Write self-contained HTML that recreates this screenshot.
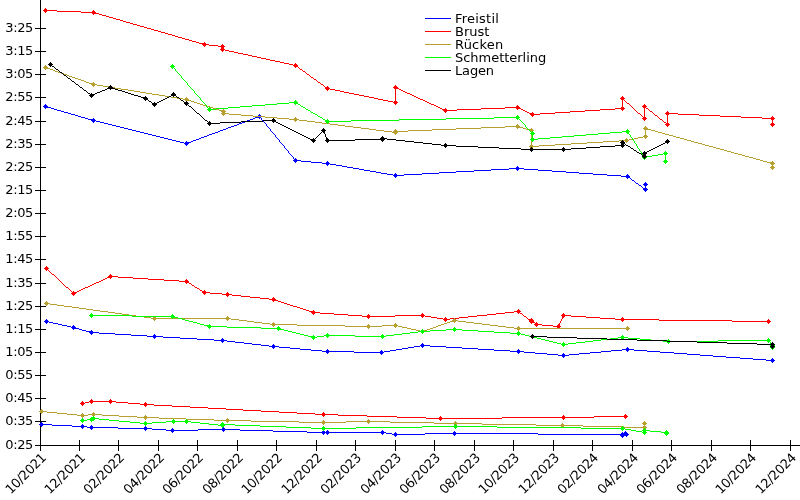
<!DOCTYPE html>
<html lang="de"><head><meta charset="utf-8"><title>Schwimmzeiten</title>
<style>
html,body{margin:0;padding:0;background:#fff;overflow:hidden}
svg{display:block}
text{font-family:"DejaVu Sans","Liberation Sans",sans-serif;font-size:13px;fill:#000}
.l{fill:none;stroke-width:1;shape-rendering:crispEdges}
.m{shape-rendering:crispEdges;stroke:none}
</style></head><body>
<svg width="800" height="500" viewBox="0 0 800 500">
<rect width="800" height="500" fill="#fff"/>
<path class="m" fill="#000" d="M40 0h1v451h-1zM35 445h765v1h-765zM35 28h11v1h-11zM35 51h11v1h-11zM35 74h11v1h-11zM35 97h11v1h-11zM35 121h11v1h-11zM35 144h11v1h-11zM35 167h11v1h-11zM35 190h11v1h-11zM35 213h11v1h-11zM35 236h11v1h-11zM35 259h11v1h-11zM35 283h11v1h-11zM35 306h11v1h-11zM35 329h11v1h-11zM35 352h11v1h-11zM35 375h11v1h-11zM35 398h11v1h-11zM35 421h11v1h-11zM79 440h1v11h-1zM118 440h1v11h-1zM158 440h1v11h-1zM197 440h1v11h-1zM237 440h1v11h-1zM276 440h1v11h-1zM316 440h1v11h-1zM355 440h1v11h-1zM395 440h1v11h-1zM434 440h1v11h-1zM474 440h1v11h-1zM513 440h1v11h-1zM553 440h1v11h-1zM592 440h1v11h-1zM632 440h1v11h-1zM671 440h1v11h-1zM711 440h1v11h-1zM750 440h1v11h-1zM790 440h1v11h-1z"/>
<g text-anchor="end" style="letter-spacing:-0.38px">
<text x="33.0" y="32.3">3:25</text>
<text x="33.0" y="55.3">3:15</text>
<text x="33.0" y="78.3">3:05</text>
<text x="33.0" y="101.3">2:55</text>
<text x="33.0" y="125.3">2:45</text>
<text x="33.0" y="148.3">2:35</text>
<text x="33.0" y="171.3">2:25</text>
<text x="33.0" y="194.3">2:15</text>
<text x="33.0" y="217.3">2:05</text>
<text x="33.0" y="240.3">1:55</text>
<text x="33.0" y="263.3">1:45</text>
<text x="33.0" y="287.3">1:35</text>
<text x="33.0" y="310.3">1:25</text>
<text x="33.0" y="333.3">1:15</text>
<text x="33.0" y="356.3">1:05</text>
<text x="33.0" y="379.3">0:55</text>
<text x="33.0" y="402.3">0:45</text>
<text x="33.0" y="425.3">0:35</text>
<text x="33.0" y="449.3">0:25</text>
</g>
<g text-anchor="end" style="letter-spacing:-0.42px">
<text transform="translate(46.8,458.7) rotate(-45)">10/2021</text>
<text transform="translate(85.8,458.7) rotate(-45)">12/2021</text>
<text transform="translate(124.8,458.7) rotate(-45)">02/2022</text>
<text transform="translate(164.8,458.7) rotate(-45)">04/2022</text>
<text transform="translate(203.8,458.7) rotate(-45)">06/2022</text>
<text transform="translate(243.8,458.7) rotate(-45)">08/2022</text>
<text transform="translate(282.8,458.7) rotate(-45)">10/2022</text>
<text transform="translate(322.8,458.7) rotate(-45)">12/2022</text>
<text transform="translate(361.8,458.7) rotate(-45)">02/2023</text>
<text transform="translate(401.8,458.7) rotate(-45)">04/2023</text>
<text transform="translate(440.8,458.7) rotate(-45)">06/2023</text>
<text transform="translate(480.8,458.7) rotate(-45)">08/2023</text>
<text transform="translate(519.8,458.7) rotate(-45)">10/2023</text>
<text transform="translate(559.8,458.7) rotate(-45)">12/2023</text>
<text transform="translate(598.8,458.7) rotate(-45)">02/2024</text>
<text transform="translate(638.8,458.7) rotate(-45)">04/2024</text>
<text transform="translate(677.8,458.7) rotate(-45)">06/2024</text>
<text transform="translate(717.8,458.7) rotate(-45)">08/2024</text>
<text transform="translate(756.8,458.7) rotate(-45)">10/2024</text>
<text transform="translate(796.8,458.7) rotate(-45)">12/2024</text>
</g>
<path class="m" fill="#0000ff" d="M425 18h26v1h-26z"/><text x="455" y="23" style="letter-spacing:0.23px">Freistil</text>
<path class="m" fill="#ff0000" d="M425 31h26v1h-26z"/><text x="455" y="36" style="letter-spacing:0px">Brust</text>
<path class="m" fill="#b8a030" d="M425 44h26v1h-26z"/><text x="455" y="49" style="letter-spacing:0.2px">Rücken</text>
<path class="m" fill="#00ff00" d="M425 57h26v1h-26z"/><text x="455" y="62" style="letter-spacing:-0.03px">Schmetterling</text>
<path class="m" fill="#000000" d="M425 70h26v1h-26z"/><text x="455" y="75" style="letter-spacing:-0.15px">Lagen</text>
<path class="m" fill="#0000ff" d="M645 184h1v6h-1zM45 106h2v1h-2zM47 107h4v1h-4zM51 108h3v1h-3zM54 109h3v1h-3zM57 110h4v1h-4zM61 111h3v1h-3zM64 112h4v1h-4zM68 113h3v1h-3zM71 114h4v1h-4zM75 115h3v1h-3zM78 116h3v1h-3zM258 116h2v1h-2zM81 117h4v1h-4zM255 117h3v1h-3zM260 117h1v1h-1zM85 118h3v1h-3zM253 118h2v1h-2zM261 118h1v1h-1zM88 119h4v1h-4zM250 119h3v1h-3zM261 119h1v1h-1zM92 120h4v1h-4zM247 120h3v1h-3zM262 120h1v1h-1zM96 121h4v1h-4zM245 121h2v1h-2zM263 121h1v1h-1zM100 122h4v1h-4zM242 122h3v1h-3zM264 122h1v1h-1zM104 123h4v1h-4zM239 123h3v1h-3zM265 123h1v1h-1zM108 124h4v1h-4zM237 124h2v1h-2zM266 124h1v1h-1zM112 125h4v1h-4zM234 125h3v1h-3zM266 125h1v1h-1zM116 126h4v1h-4zM231 126h3v1h-3zM267 126h1v1h-1zM120 127h4v1h-4zM228 127h3v1h-3zM268 127h1v1h-1zM124 128h4v1h-4zM226 128h2v1h-2zM269 128h1v1h-1zM128 129h4v1h-4zM223 129h3v1h-3zM270 129h1v1h-1zM132 130h4v1h-4zM220 130h3v1h-3zM270 130h1v1h-1zM136 131h4v1h-4zM218 131h2v1h-2zM271 131h1v1h-1zM140 132h4v1h-4zM215 132h3v1h-3zM272 132h1v1h-1zM144 133h4v1h-4zM212 133h3v1h-3zM273 133h1v1h-1zM148 134h4v1h-4zM209 134h3v1h-3zM274 134h1v1h-1zM152 135h4v1h-4zM207 135h2v1h-2zM275 135h1v1h-1zM156 136h4v1h-4zM204 136h3v1h-3zM275 136h1v1h-1zM160 137h4v1h-4zM201 137h3v1h-3zM276 137h1v1h-1zM164 138h4v1h-4zM199 138h2v1h-2zM277 138h1v1h-1zM168 139h4v1h-4zM196 139h3v1h-3zM278 139h1v1h-1zM172 140h4v1h-4zM193 140h3v1h-3zM279 140h1v1h-1zM176 141h4v1h-4zM191 141h2v1h-2zM279 141h1v1h-1zM180 142h4v1h-4zM188 142h3v1h-3zM280 142h1v1h-1zM184 143h4v1h-4zM281 143h1v1h-1zM282 144h1v1h-1zM283 145h1v1h-1zM284 146h1v1h-1zM284 147h1v1h-1zM285 148h1v1h-1zM286 149h1v1h-1zM287 150h1v1h-1zM288 151h1v1h-1zM288 152h1v1h-1zM289 153h1v1h-1zM290 154h1v1h-1zM291 155h1v1h-1zM292 156h1v1h-1zM293 157h1v1h-1zM293 158h1v1h-1zM294 159h1v1h-1zM295 160h6v1h-6zM301 161h10v1h-10zM311 162h11v1h-11zM322 163h8v1h-8zM330 164h6v1h-6zM336 165h6v1h-6zM342 166h5v1h-5zM347 167h6v1h-6zM353 168h6v1h-6zM509 168h15v1h-15zM359 169h5v1h-5zM491 169h18v1h-18zM524 169h14v1h-14zM364 170h6v1h-6zM474 170h17v1h-17zM538 170h14v1h-14zM370 171h6v1h-6zM456 171h18v1h-18zM552 171h14v1h-14zM376 172h5v1h-5zM439 172h17v1h-17zM566 172h13v1h-13zM381 173h6v1h-6zM422 173h17v1h-17zM579 173h14v1h-14zM387 174h6v1h-6zM404 174h18v1h-18zM593 174h14v1h-14zM393 175h11v1h-11zM607 175h14v1h-14zM621 176h7v1h-7zM628 177h2v1h-2zM630 178h1v1h-1zM631 179h1v1h-1zM632 180h2v1h-2zM634 181h1v1h-1zM635 182h1v1h-1zM636 183h2v1h-2zM638 184h1v1h-1zM639 185h2v1h-2zM641 186h1v1h-1zM642 187h1v1h-1zM643 188h2v1h-2z"/>
<path class="m" fill="#0000ff" d="M43 106h5v1h-5zM44 105h3v3h-3zM45 104h1v5h-1zM91 120h5v1h-5zM92 119h3v3h-3zM93 118h1v5h-1zM184 143h5v1h-5zM185 142h3v3h-3zM186 141h1v5h-1zM257 116h5v1h-5zM258 115h3v3h-3zM259 114h1v5h-1zM293 160h5v1h-5zM294 159h3v3h-3zM295 158h1v5h-1zM325 163h5v1h-5zM326 162h3v3h-3zM327 161h1v5h-1zM393 175h5v1h-5zM394 174h3v3h-3zM395 173h1v5h-1zM515 168h5v1h-5zM516 167h3v3h-3zM517 166h1v5h-1zM625 176h5v1h-5zM626 175h3v3h-3zM627 174h1v5h-1zM643 189h5v1h-5zM644 188h3v3h-3zM645 187h1v5h-1zM643 184h5v1h-5zM644 183h3v3h-3zM645 182h1v5h-1z"/>
<path class="m" fill="#0000ff" d="M46 321h3v1h-3zM49 322h4v1h-4zM53 323h5v1h-5zM58 324h4v1h-4zM62 325h5v1h-5zM67 326h4v1h-4zM71 327h4v1h-4zM75 328h4v1h-4zM79 329h3v1h-3zM82 330h4v1h-4zM86 331h4v1h-4zM90 332h9v1h-9zM99 333h16v1h-16zM115 334h16v1h-16zM131 335h16v1h-16zM147 336h16v1h-16zM163 337h17v1h-17zM180 338h17v1h-17zM197 339h17v1h-17zM214 340h13v1h-13zM227 341h8v1h-8zM235 342h9v1h-9zM244 343h8v1h-8zM252 344h9v1h-9zM261 345h8v1h-8zM420 345h10v1h-10zM269 346h10v1h-10zM414 346h6v1h-6zM430 346h16v1h-16zM279 347h11v1h-11zM408 347h6v1h-6zM446 347h16v1h-16zM290 348h10v1h-10zM402 348h6v1h-6zM462 348h16v1h-16zM300 349h11v1h-11zM396 349h6v1h-6zM478 349h16v1h-16zM622 349h12v1h-12zM311 350h11v1h-11zM390 350h6v1h-6zM494 350h16v1h-16zM611 350h11v1h-11zM634 350h13v1h-13zM322 351h32v1h-32zM384 351h6v1h-6zM510 351h14v1h-14zM601 351h10v1h-10zM647 351h13v1h-13zM354 352h30v1h-30zM524 352h11v1h-11zM590 352h11v1h-11zM660 352h14v1h-14zM535 353h12v1h-12zM579 353h11v1h-11zM674 353h13v1h-13zM547 354h11v1h-11zM569 354h10v1h-10zM687 354h13v1h-13zM558 355h11v1h-11zM700 355h13v1h-13zM713 356h13v1h-13zM726 357h14v1h-14zM740 358h13v1h-13zM753 359h13v1h-13zM766 360h7v1h-7z"/>
<path class="m" fill="#0000ff" d="M44 321h5v1h-5zM45 320h3v3h-3zM46 319h1v5h-1zM71 327h5v1h-5zM72 326h3v3h-3zM73 325h1v5h-1zM89 332h5v1h-5zM90 331h3v3h-3zM91 330h1v5h-1zM152 336h5v1h-5zM153 335h3v3h-3zM154 334h1v5h-1zM220 340h5v1h-5zM221 339h3v3h-3zM222 338h1v5h-1zM271 346h5v1h-5zM272 345h3v3h-3zM273 344h1v5h-1zM325 351h5v1h-5zM326 350h3v3h-3zM327 349h1v5h-1zM379 352h5v1h-5zM380 351h3v3h-3zM381 350h1v5h-1zM420 345h5v1h-5zM421 344h3v3h-3zM422 343h1v5h-1zM516 351h5v1h-5zM517 350h3v3h-3zM518 349h1v5h-1zM561 355h5v1h-5zM562 354h3v3h-3zM563 353h1v5h-1zM625 349h5v1h-5zM626 348h3v3h-3zM627 347h1v5h-1zM770 360h5v1h-5zM771 359h3v3h-3zM772 358h1v5h-1z"/>
<path class="m" fill="#0000ff" d="M41 424h11v1h-11zM52 425h20v1h-20zM72 426h15v1h-15zM87 427h31v1h-31zM118 428h34v1h-34zM152 429h14v1h-14zM198 429h42v1h-42zM166 430h32v1h-32zM240 430h33v1h-33zM273 431h34v1h-34zM307 432h79v1h-79zM386 433h6v1h-6zM425 433h113v1h-113zM625 433h1v1h-1zM392 434h33v1h-33zM538 434h87v1h-87zM626 434h1v1h-1zM622 435h1v1h-1z"/>
<path class="m" fill="#0000ff" d="M39 424h5v1h-5zM40 423h3v3h-3zM41 422h1v5h-1zM80 426h5v1h-5zM81 425h3v3h-3zM82 424h1v5h-1zM89 427h5v1h-5zM90 426h3v3h-3zM91 425h1v5h-1zM143 428h5v1h-5zM144 427h3v3h-3zM145 426h1v5h-1zM170 430h5v1h-5zM171 429h3v3h-3zM172 428h1v5h-1zM221 429h5v1h-5zM222 428h3v3h-3zM223 427h1v5h-1zM321 432h5v1h-5zM322 431h3v3h-3zM323 430h1v5h-1zM325 432h5v1h-5zM326 431h3v3h-3zM327 430h1v5h-1zM380 432h5v1h-5zM381 431h3v3h-3zM382 430h1v5h-1zM393 434h5v1h-5zM394 433h3v3h-3zM395 432h1v5h-1zM452 433h5v1h-5zM453 432h3v3h-3zM454 431h1v5h-1zM620 434h5v1h-5zM621 433h3v3h-3zM622 432h1v5h-1zM620 435h5v1h-5zM621 434h3v3h-3zM622 433h1v5h-1zM623 433h5v1h-5zM624 432h3v3h-3zM625 431h1v5h-1zM624 434h5v1h-5zM625 433h3v3h-3zM626 432h1v5h-1z"/>
<path class="m" fill="#ff0000" d="M772 118h1v7h-1zM395 87h1v16h-1zM222 46h1v4h-1zM667 113h1v12h-1zM622 98h1v11h-1zM644 106h1v13h-1zM45 10h12v1h-12zM57 11h24v1h-24zM81 12h14v1h-14zM95 13h4v1h-4zM99 14h3v1h-3zM102 15h4v1h-4zM106 16h3v1h-3zM109 17h4v1h-4zM113 18h3v1h-3zM116 19h4v1h-4zM120 20h3v1h-3zM123 21h3v1h-3zM126 22h4v1h-4zM130 23h3v1h-3zM133 24h4v1h-4zM137 25h3v1h-3zM140 26h4v1h-4zM144 27h3v1h-3zM147 28h4v1h-4zM151 29h3v1h-3zM154 30h4v1h-4zM158 31h3v1h-3zM161 32h4v1h-4zM165 33h3v1h-3zM168 34h4v1h-4zM172 35h3v1h-3zM175 36h3v1h-3zM178 37h4v1h-4zM182 38h3v1h-3zM185 39h4v1h-4zM189 40h3v1h-3zM192 41h4v1h-4zM196 42h3v1h-3zM199 43h4v1h-4zM203 44h6v1h-6zM209 45h9v1h-9zM218 46h4v1h-4zM223 49h2v1h-2zM225 50h4v1h-4zM229 51h5v1h-5zM234 52h4v1h-4zM238 53h5v1h-5zM243 54h5v1h-5zM248 55h4v1h-4zM252 56h5v1h-5zM257 57h4v1h-4zM261 58h5v1h-5zM266 59h4v1h-4zM270 60h5v1h-5zM275 61h5v1h-5zM280 62h4v1h-4zM284 63h5v1h-5zM289 64h4v1h-4zM293 65h3v1h-3zM296 66h2v1h-2zM298 67h1v1h-1zM299 68h1v1h-1zM300 69h2v1h-2zM302 70h1v1h-1zM303 71h2v1h-2zM305 72h1v1h-1zM306 73h1v1h-1zM307 74h2v1h-2zM309 75h1v1h-1zM310 76h1v1h-1zM311 77h2v1h-2zM313 78h1v1h-1zM314 79h2v1h-2zM316 80h1v1h-1zM317 81h1v1h-1zM318 82h2v1h-2zM320 83h1v1h-1zM321 84h2v1h-2zM323 85h1v1h-1zM324 86h1v1h-1zM325 87h2v1h-2zM396 87h1v1h-1zM327 88h3v1h-3zM397 88h2v1h-2zM330 89h5v1h-5zM399 89h2v1h-2zM335 90h5v1h-5zM401 90h2v1h-2zM340 91h4v1h-4zM403 91h2v1h-2zM344 92h5v1h-5zM405 92h2v1h-2zM349 93h5v1h-5zM407 93h3v1h-3zM354 94h5v1h-5zM410 94h2v1h-2zM359 95h5v1h-5zM412 95h2v1h-2zM364 96h5v1h-5zM414 96h2v1h-2zM369 97h5v1h-5zM416 97h2v1h-2zM374 98h4v1h-4zM418 98h2v1h-2zM378 99h5v1h-5zM420 99h3v1h-3zM623 99h1v1h-1zM383 100h5v1h-5zM423 100h2v1h-2zM624 100h1v1h-1zM388 101h5v1h-5zM425 101h2v1h-2zM625 101h1v1h-1zM393 102h2v1h-2zM427 102h2v1h-2zM626 102h1v1h-1zM429 103h2v1h-2zM627 103h2v1h-2zM431 104h3v1h-3zM629 104h1v1h-1zM434 105h2v1h-2zM630 105h1v1h-1zM436 106h2v1h-2zM631 106h1v1h-1zM438 107h2v1h-2zM505 107h14v1h-14zM632 107h1v1h-1zM645 107h1v1h-1zM440 108h2v1h-2zM481 108h24v1h-24zM519 108h2v1h-2zM615 108h7v1h-7zM633 108h1v1h-1zM646 108h2v1h-2zM442 109h2v1h-2zM457 109h24v1h-24zM521 109h2v1h-2zM600 109h15v1h-15zM634 109h1v1h-1zM648 109h1v1h-1zM444 110h13v1h-13zM523 110h2v1h-2zM585 110h15v1h-15zM635 110h1v1h-1zM649 110h1v1h-1zM525 111h2v1h-2zM570 111h15v1h-15zM636 111h1v1h-1zM650 111h2v1h-2zM527 112h2v1h-2zM555 112h15v1h-15zM637 112h1v1h-1zM652 112h1v1h-1zM529 113h2v1h-2zM540 113h15v1h-15zM638 113h2v1h-2zM653 113h1v1h-1zM668 113h10v1h-10zM531 114h9v1h-9zM640 114h1v1h-1zM654 114h1v1h-1zM678 114h21v1h-21zM641 115h1v1h-1zM655 115h2v1h-2zM699 115h21v1h-21zM642 116h1v1h-1zM657 116h1v1h-1zM720 116h21v1h-21zM643 117h1v1h-1zM658 117h1v1h-1zM741 117h21v1h-21zM659 118h1v1h-1zM762 118h10v1h-10zM660 119h2v1h-2zM662 120h1v1h-1zM663 121h1v1h-1zM664 122h2v1h-2zM666 123h1v1h-1z"/>
<path class="m" fill="#ff0000" d="M43 10h5v1h-5zM44 9h3v3h-3zM45 8h1v5h-1zM91 12h5v1h-5zM92 11h3v3h-3zM93 10h1v5h-1zM202 44h5v1h-5zM203 43h3v3h-3zM204 42h1v5h-1zM220 46h5v1h-5zM221 45h3v3h-3zM222 44h1v5h-1zM220 49h5v1h-5zM221 48h3v3h-3zM222 47h1v5h-1zM293 65h5v1h-5zM294 64h3v3h-3zM295 63h1v5h-1zM325 88h5v1h-5zM326 87h3v3h-3zM327 86h1v5h-1zM393 102h5v1h-5zM394 101h3v3h-3zM395 100h1v5h-1zM393 87h5v1h-5zM394 86h3v3h-3zM395 85h1v5h-1zM443 110h5v1h-5zM444 109h3v3h-3zM445 108h1v5h-1zM515 107h5v1h-5zM516 106h3v3h-3zM517 105h1v5h-1zM530 114h5v1h-5zM531 113h3v3h-3zM532 112h1v5h-1zM620 108h5v1h-5zM621 107h3v3h-3zM622 106h1v5h-1zM620 98h5v1h-5zM621 97h3v3h-3zM622 96h1v5h-1zM642 118h5v1h-5zM643 117h3v3h-3zM644 116h1v5h-1zM642 106h5v1h-5zM643 105h3v3h-3zM644 104h1v5h-1zM665 124h5v1h-5zM666 123h3v3h-3zM667 122h1v5h-1zM665 113h5v1h-5zM666 112h3v3h-3zM667 111h1v5h-1zM770 118h5v1h-5zM771 117h3v3h-3zM772 116h1v5h-1zM770 124h5v1h-5zM771 123h3v3h-3zM772 122h1v5h-1z"/>
<path class="m" fill="#ff0000" d="M46 268h1v1h-1zM47 269h1v1h-1zM48 270h1v1h-1zM49 271h1v1h-1zM50 272h1v1h-1zM51 273h1v1h-1zM52 274h2v1h-2zM54 275h1v1h-1zM55 276h1v1h-1zM109 276h9v1h-9zM56 277h1v1h-1zM107 277h2v1h-2zM118 277h15v1h-15zM57 278h1v1h-1zM105 278h2v1h-2zM133 278h15v1h-15zM58 279h1v1h-1zM103 279h2v1h-2zM148 279h16v1h-16zM59 280h1v1h-1zM101 280h2v1h-2zM164 280h15v1h-15zM60 281h1v1h-1zM99 281h2v1h-2zM179 281h8v1h-8zM61 282h1v1h-1zM96 282h3v1h-3zM187 282h2v1h-2zM62 283h1v1h-1zM94 283h2v1h-2zM189 283h2v1h-2zM63 284h1v1h-1zM92 284h2v1h-2zM191 284h1v1h-1zM64 285h1v1h-1zM90 285h2v1h-2zM192 285h2v1h-2zM65 286h1v1h-1zM88 286h2v1h-2zM194 286h1v1h-1zM66 287h2v1h-2zM85 287h3v1h-3zM195 287h2v1h-2zM68 288h1v1h-1zM83 288h2v1h-2zM197 288h2v1h-2zM69 289h1v1h-1zM81 289h2v1h-2zM199 289h1v1h-1zM70 290h1v1h-1zM79 290h2v1h-2zM200 290h2v1h-2zM71 291h1v1h-1zM77 291h2v1h-2zM202 291h2v1h-2zM72 292h1v1h-1zM75 292h2v1h-2zM204 292h6v1h-6zM73 293h2v1h-2zM210 293h12v1h-12zM222 294h10v1h-10zM232 295h9v1h-9zM241 296h9v1h-9zM250 297h10v1h-10zM260 298h9v1h-9zM269 299h6v1h-6zM275 300h3v1h-3zM278 301h3v1h-3zM281 302h3v1h-3zM284 303h3v1h-3zM287 304h3v1h-3zM290 305h3v1h-3zM293 306h4v1h-4zM297 307h3v1h-3zM300 308h3v1h-3zM303 309h3v1h-3zM306 310h3v1h-3zM309 311h3v1h-3zM514 311h5v1h-5zM312 312h8v1h-8zM505 312h9v1h-9zM519 312h1v1h-1zM320 313h14v1h-14zM496 313h9v1h-9zM520 313h2v1h-2zM334 314h14v1h-14zM487 314h9v1h-9zM522 314h1v1h-1zM348 315h14v1h-14zM395 315h30v1h-30zM477 315h10v1h-10zM523 315h1v1h-1zM563 315h8v1h-8zM362 316h33v1h-33zM425 316h6v1h-6zM468 316h9v1h-9zM524 316h2v1h-2zM563 316h1v1h-1zM571 316h15v1h-15zM431 317h6v1h-6zM459 317h9v1h-9zM526 317h1v1h-1zM562 317h1v1h-1zM586 317h14v1h-14zM437 318h6v1h-6zM450 318h9v1h-9zM527 318h1v1h-1zM562 318h1v1h-1zM600 318h15v1h-15zM443 319h7v1h-7zM528 319h2v1h-2zM561 319h1v1h-1zM615 319h44v1h-44zM530 320h2v1h-2zM561 320h1v1h-1zM659 320h73v1h-73zM531 321h2v1h-2zM560 321h1v1h-1zM732 321h37v1h-37zM533 322h2v1h-2zM560 322h1v1h-1zM535 323h1v1h-1zM559 323h1v1h-1zM536 324h6v1h-6zM559 324h1v1h-1zM542 325h11v1h-11zM558 325h1v1h-1zM553 326h6v1h-6z"/>
<path class="m" fill="#ff0000" d="M44 268h5v1h-5zM45 267h3v3h-3zM46 266h1v5h-1zM71 293h5v1h-5zM72 292h3v3h-3zM73 291h1v5h-1zM108 276h5v1h-5zM109 275h3v3h-3zM110 274h1v5h-1zM184 281h5v1h-5zM185 280h3v3h-3zM186 279h1v5h-1zM202 292h5v1h-5zM203 291h3v3h-3zM204 290h1v5h-1zM225 294h5v1h-5zM226 293h3v3h-3zM227 292h1v5h-1zM271 299h5v1h-5zM272 298h3v3h-3zM273 297h1v5h-1zM311 312h5v1h-5zM312 311h3v3h-3zM313 310h1v5h-1zM366 316h5v1h-5zM367 315h3v3h-3zM368 314h1v5h-1zM420 315h5v1h-5zM421 314h3v3h-3zM422 313h1v5h-1zM443 319h5v1h-5zM444 318h3v3h-3zM445 317h1v5h-1zM516 311h5v1h-5zM517 310h3v3h-3zM518 309h1v5h-1zM529 321h5v1h-5zM530 320h3v3h-3zM531 319h1v5h-1zM529 320h5v1h-5zM530 319h3v3h-3zM531 318h1v5h-1zM534 324h5v1h-5zM535 323h3v3h-3zM536 322h1v5h-1zM556 326h5v1h-5zM557 325h3v3h-3zM558 324h1v5h-1zM561 315h5v1h-5zM562 314h3v3h-3zM563 313h1v5h-1zM620 319h5v1h-5zM621 318h3v3h-3zM622 317h1v5h-1zM766 321h5v1h-5zM767 320h3v3h-3zM768 319h1v5h-1z"/>
<path class="m" fill="#ff0000" d="M89 401h27v1h-27zM85 402h4v1h-4zM116 402h12v1h-12zM82 403h3v1h-3zM128 403h12v1h-12zM140 404h14v1h-14zM154 405h18v1h-18zM172 406h18v1h-18zM190 407h18v1h-18zM208 408h18v1h-18zM226 409h17v1h-17zM243 410h18v1h-18zM261 411h18v1h-18zM279 412h18v1h-18zM297 413h18v1h-18zM315 414h23v1h-23zM338 415h29v1h-29zM367 416h30v1h-30zM594 416h32v1h-32zM397 417h29v1h-29zM502 417h92v1h-92zM426 418h76v1h-76z"/>
<path class="m" fill="#ff0000" d="M80 403h5v1h-5zM81 402h3v3h-3zM82 401h1v5h-1zM89 401h5v1h-5zM90 400h3v3h-3zM91 399h1v5h-1zM108 401h5v1h-5zM109 400h3v3h-3zM110 399h1v5h-1zM143 404h5v1h-5zM144 403h3v3h-3zM145 402h1v5h-1zM321 414h5v1h-5zM322 413h3v3h-3zM323 412h1v5h-1zM438 418h5v1h-5zM439 417h3v3h-3zM440 416h1v5h-1zM561 417h5v1h-5zM562 416h3v3h-3zM563 415h1v5h-1zM623 416h5v1h-5zM624 415h3v3h-3zM625 414h1v5h-1z"/>
<path class="m" fill="#b8a030" d="M531 130h1v17h-1zM645 128h1v9h-1zM772 163h1v5h-1zM223 111h1v3h-1zM45 67h2v1h-2zM47 68h3v1h-3zM50 69h3v1h-3zM53 70h2v1h-2zM55 71h3v1h-3zM58 72h3v1h-3zM61 73h3v1h-3zM64 74h3v1h-3zM67 75h2v1h-2zM69 76h3v1h-3zM72 77h3v1h-3zM75 78h3v1h-3zM78 79h3v1h-3zM81 80h3v1h-3zM84 81h2v1h-2zM86 82h3v1h-3zM89 83h3v1h-3zM92 84h5v1h-5zM97 85h6v1h-6zM103 86h6v1h-6zM109 87h6v1h-6zM115 88h6v1h-6zM121 89h7v1h-7zM128 90h6v1h-6zM134 91h6v1h-6zM140 92h6v1h-6zM146 93h6v1h-6zM152 94h7v1h-7zM159 95h6v1h-6zM165 96h6v1h-6zM171 97h6v1h-6zM177 98h6v1h-6zM183 99h5v1h-5zM188 100h3v1h-3zM191 101h3v1h-3zM194 102h3v1h-3zM197 103h3v1h-3zM200 104h3v1h-3zM203 105h4v1h-4zM207 106h3v1h-3zM210 107h3v1h-3zM213 108h3v1h-3zM216 109h3v1h-3zM219 110h3v1h-3zM222 111h1v1h-1zM224 113h5v1h-5zM229 114h12v1h-12zM241 115h12v1h-12zM253 116h12v1h-12zM265 117h12v1h-12zM277 118h12v1h-12zM289 119h10v1h-10zM299 120h8v1h-8zM307 121h8v1h-8zM315 122h7v1h-7zM322 123h8v1h-8zM330 124h8v1h-8zM338 125h7v1h-7zM345 126h8v1h-8zM505 126h14v1h-14zM353 127h8v1h-8zM481 127h24v1h-24zM519 127h4v1h-4zM361 128h8v1h-8zM456 128h25v1h-25zM523 128h3v1h-3zM646 128h1v1h-1zM369 129h7v1h-7zM432 129h24v1h-24zM526 129h4v1h-4zM647 129h4v1h-4zM376 130h8v1h-8zM408 130h24v1h-24zM530 130h1v1h-1zM651 130h4v1h-4zM384 131h8v1h-8zM395 131h13v1h-13zM655 131h3v1h-3zM392 132h4v1h-4zM658 132h4v1h-4zM662 133h3v1h-3zM665 134h4v1h-4zM669 135h4v1h-4zM643 136h2v1h-2zM673 136h3v1h-3zM638 137h5v1h-5zM676 137h4v1h-4zM634 138h4v1h-4zM680 138h4v1h-4zM629 139h5v1h-5zM684 139h3v1h-3zM619 140h10v1h-10zM687 140h4v1h-4zM603 141h16v1h-16zM691 141h3v1h-3zM587 142h16v1h-16zM694 142h4v1h-4zM571 143h16v1h-16zM698 143h4v1h-4zM555 144h16v1h-16zM702 144h3v1h-3zM539 145h16v1h-16zM705 145h4v1h-4zM532 146h7v1h-7zM709 146h4v1h-4zM713 147h3v1h-3zM716 148h4v1h-4zM720 149h4v1h-4zM724 150h3v1h-3zM727 151h4v1h-4zM731 152h3v1h-3zM734 153h4v1h-4zM738 154h4v1h-4zM742 155h3v1h-3zM745 156h4v1h-4zM749 157h4v1h-4zM753 158h3v1h-3zM756 159h4v1h-4zM760 160h3v1h-3zM763 161h4v1h-4zM767 162h4v1h-4zM771 163h1v1h-1z"/>
<path class="m" fill="#b8a030" d="M43 67h5v1h-5zM44 66h3v3h-3zM45 65h1v5h-1zM91 84h5v1h-5zM92 83h3v3h-3zM93 82h1v5h-1zM184 99h5v1h-5zM185 98h3v3h-3zM186 97h1v5h-1zM221 111h5v1h-5zM222 110h3v3h-3zM223 109h1v5h-1zM221 113h5v1h-5zM222 112h3v3h-3zM223 111h1v5h-1zM293 119h5v1h-5zM294 118h3v3h-3zM295 117h1v5h-1zM393 132h5v1h-5zM394 131h3v3h-3zM395 130h1v5h-1zM393 131h5v1h-5zM394 130h3v3h-3zM395 129h1v5h-1zM515 126h5v1h-5zM516 125h3v3h-3zM517 124h1v5h-1zM529 130h5v1h-5zM530 129h3v3h-3zM531 128h1v5h-1zM529 146h5v1h-5zM530 145h3v3h-3zM531 144h1v5h-1zM624 140h5v1h-5zM625 139h3v3h-3zM626 138h1v5h-1zM643 136h5v1h-5zM644 135h3v3h-3zM645 134h1v5h-1zM643 128h5v1h-5zM644 127h3v3h-3zM645 126h1v5h-1zM770 163h5v1h-5zM771 162h3v3h-3zM772 161h1v5h-1zM770 167h5v1h-5zM771 166h3v3h-3zM772 165h1v5h-1z"/>
<path class="m" fill="#b8a030" d="M46 303h4v1h-4zM50 304h7v1h-7zM57 305h7v1h-7zM64 306h8v1h-8zM72 307h7v1h-7zM79 308h7v1h-7zM86 309h7v1h-7zM93 310h7v1h-7zM100 311h8v1h-8zM108 312h7v1h-7zM115 313h7v1h-7zM122 314h7v1h-7zM129 315h7v1h-7zM136 316h8v1h-8zM144 317h7v1h-7zM151 318h80v1h-80zM231 319h8v1h-8zM239 320h8v1h-8zM453 320h5v1h-5zM247 321h7v1h-7zM450 321h3v1h-3zM458 321h8v1h-8zM254 322h8v1h-8zM447 322h3v1h-3zM466 322h8v1h-8zM262 323h8v1h-8zM444 323h3v1h-3zM474 323h8v1h-8zM270 324h27v1h-27zM441 324h3v1h-3zM482 324h8v1h-8zM297 325h48v1h-48zM382 325h16v1h-16zM438 325h3v1h-3zM490 325h8v1h-8zM345 326h37v1h-37zM398 326h4v1h-4zM436 326h2v1h-2zM498 326h8v1h-8zM402 327h5v1h-5zM433 327h3v1h-3zM506 327h8v1h-8zM407 328h4v1h-4zM430 328h3v1h-3zM514 328h114v1h-114zM411 329h5v1h-5zM427 329h3v1h-3zM416 330h4v1h-4zM424 330h3v1h-3zM420 331h4v1h-4z"/>
<path class="m" fill="#b8a030" d="M44 303h5v1h-5zM45 302h3v3h-3zM46 301h1v5h-1zM152 318h5v1h-5zM153 317h3v3h-3zM154 316h1v5h-1zM225 318h5v1h-5zM226 317h3v3h-3zM227 316h1v5h-1zM271 324h5v1h-5zM272 323h3v3h-3zM273 322h1v5h-1zM366 326h5v1h-5zM367 325h3v3h-3zM368 324h1v5h-1zM393 325h5v1h-5zM394 324h3v3h-3zM395 323h1v5h-1zM420 331h5v1h-5zM421 330h3v3h-3zM422 329h1v5h-1zM452 320h5v1h-5zM453 319h3v3h-3zM454 318h1v5h-1zM516 328h5v1h-5zM517 327h3v3h-3zM518 326h1v5h-1zM625 328h5v1h-5zM626 327h3v3h-3zM627 326h1v5h-1z"/>
<path class="m" fill="#b8a030" d="M644 423h1v5h-1zM41 411h6v1h-6zM47 412h10v1h-10zM57 413h10v1h-10zM67 414h10v1h-10zM88 414h14v1h-14zM77 415h11v1h-11zM102 415h17v1h-17zM119 416h18v1h-18zM137 417h22v1h-22zM159 418h27v1h-27zM186 419h28v1h-28zM214 420h37v1h-37zM251 421h48v1h-48zM346 421h44v1h-44zM299 422h47v1h-47zM390 422h44v1h-44zM434 423h48v1h-48zM482 424h54v1h-54zM536 425h47v1h-47zM583 426h41v1h-41zM624 427h20v1h-20z"/>
<path class="m" fill="#b8a030" d="M39 411h5v1h-5zM40 410h3v3h-3zM41 409h1v5h-1zM80 415h5v1h-5zM81 414h3v3h-3zM82 413h1v5h-1zM91 414h5v1h-5zM92 413h3v3h-3zM93 412h1v5h-1zM143 417h5v1h-5zM144 416h3v3h-3zM145 415h1v5h-1zM225 420h5v1h-5zM226 419h3v3h-3zM227 418h1v5h-1zM321 422h5v1h-5zM322 421h3v3h-3zM323 420h1v5h-1zM366 421h5v1h-5zM367 420h3v3h-3zM368 419h1v5h-1zM453 423h5v1h-5zM454 422h3v3h-3zM455 421h1v5h-1zM560 425h5v1h-5zM561 424h3v3h-3zM562 423h1v5h-1zM642 427h5v1h-5zM643 426h3v3h-3zM644 425h1v5h-1zM642 423h5v1h-5zM643 422h3v3h-3zM644 421h1v5h-1z"/>
<path class="m" fill="#00ff00" d="M665 153h1v9h-1zM532 133h1v7h-1zM172 66h1v1h-1zM173 67h1v1h-1zM174 68h1v1h-1zM175 69h1v1h-1zM175 70h1v1h-1zM176 71h1v1h-1zM177 72h1v1h-1zM178 73h1v1h-1zM179 74h1v1h-1zM180 75h1v1h-1zM181 76h1v1h-1zM181 77h1v1h-1zM182 78h1v1h-1zM183 79h1v1h-1zM184 80h1v1h-1zM185 81h1v1h-1zM186 82h1v1h-1zM187 83h1v1h-1zM187 84h1v1h-1zM188 85h1v1h-1zM189 86h1v1h-1zM190 87h1v1h-1zM191 88h1v1h-1zM192 89h1v1h-1zM193 90h1v1h-1zM194 91h1v1h-1zM194 92h1v1h-1zM195 93h1v1h-1zM196 94h1v1h-1zM197 95h1v1h-1zM198 96h1v1h-1zM199 97h1v1h-1zM200 98h1v1h-1zM200 99h1v1h-1zM201 100h1v1h-1zM202 101h1v1h-1zM203 102h1v1h-1zM289 102h7v1h-7zM204 103h1v1h-1zM277 103h12v1h-12zM296 103h2v1h-2zM205 104h1v1h-1zM265 104h12v1h-12zM298 104h2v1h-2zM206 105h1v1h-1zM252 105h13v1h-13zM300 105h1v1h-1zM206 106h1v1h-1zM240 106h12v1h-12zM301 106h2v1h-2zM207 107h1v1h-1zM228 107h12v1h-12zM303 107h2v1h-2zM208 108h1v1h-1zM216 108h12v1h-12zM305 108h1v1h-1zM209 109h7v1h-7zM306 109h2v1h-2zM308 110h2v1h-2zM310 111h1v1h-1zM311 112h2v1h-2zM313 113h2v1h-2zM315 114h2v1h-2zM317 115h1v1h-1zM318 116h2v1h-2zM320 117h2v1h-2zM494 117h24v1h-24zM322 118h1v1h-1zM446 118h48v1h-48zM518 118h1v1h-1zM323 119h2v1h-2zM399 119h47v1h-47zM519 119h1v1h-1zM325 120h2v1h-2zM351 120h48v1h-48zM520 120h1v1h-1zM327 121h24v1h-24zM521 121h1v1h-1zM522 122h1v1h-1zM523 123h1v1h-1zM524 124h1v1h-1zM525 125h1v1h-1zM525 126h1v1h-1zM526 127h1v1h-1zM527 128h1v1h-1zM528 129h1v1h-1zM529 130h1v1h-1zM530 131h1v1h-1zM622 131h6v1h-6zM531 132h1v1h-1zM610 132h12v1h-12zM628 132h1v1h-1zM598 133h12v1h-12zM628 133h1v1h-1zM586 134h12v1h-12zM629 134h1v1h-1zM574 135h12v1h-12zM630 135h1v1h-1zM562 136h12v1h-12zM630 136h1v1h-1zM550 137h12v1h-12zM631 137h1v1h-1zM538 138h12v1h-12zM632 138h1v1h-1zM533 139h5v1h-5zM632 139h1v1h-1zM633 140h1v1h-1zM634 141h1v1h-1zM634 142h1v1h-1zM635 143h1v1h-1zM636 144h1v1h-1zM636 145h1v1h-1zM637 146h1v1h-1zM637 147h1v1h-1zM638 148h1v1h-1zM639 149h1v1h-1zM639 150h1v1h-1zM640 151h1v1h-1zM641 152h1v1h-1zM641 153h1v1h-1zM663 153h2v1h-2zM642 154h1v1h-1zM658 154h5v1h-5zM643 155h1v1h-1zM652 155h6v1h-6zM643 156h1v1h-1zM647 156h5v1h-5zM644 157h3v1h-3z"/>
<path class="m" fill="#00ff00" d="M170 66h5v1h-5zM171 65h3v3h-3zM172 64h1v5h-1zM207 109h5v1h-5zM208 108h3v3h-3zM209 107h1v5h-1zM293 102h5v1h-5zM294 101h3v3h-3zM295 100h1v5h-1zM325 121h5v1h-5zM326 120h3v3h-3zM327 119h1v5h-1zM515 117h5v1h-5zM516 116h3v3h-3zM517 115h1v5h-1zM530 133h5v1h-5zM531 132h3v3h-3zM532 131h1v5h-1zM530 139h5v1h-5zM531 138h3v3h-3zM532 137h1v5h-1zM625 131h5v1h-5zM626 130h3v3h-3zM627 129h1v5h-1zM642 157h5v1h-5zM643 156h3v3h-3zM644 155h1v5h-1zM663 153h5v1h-5zM664 152h3v3h-3zM665 151h1v5h-1zM663 161h5v1h-5zM664 160h3v3h-3zM665 159h1v5h-1z"/>
<path class="m" fill="#00ff00" d="M772 345h1v3h-1zM91 315h41v1h-41zM132 316h42v1h-42zM174 317h4v1h-4zM178 318h4v1h-4zM182 319h3v1h-3zM185 320h4v1h-4zM189 321h4v1h-4zM193 322h4v1h-4zM197 323h3v1h-3zM200 324h4v1h-4zM204 325h4v1h-4zM208 326h19v1h-19zM227 327h34v1h-34zM261 328h19v1h-19zM280 329h4v1h-4zM446 329h16v1h-16zM284 330h4v1h-4zM430 330h16v1h-16zM462 330h16v1h-16zM288 331h4v1h-4zM418 331h12v1h-12zM478 331h16v1h-16zM292 332h4v1h-4zM410 332h8v1h-8zM494 332h16v1h-16zM296 333h4v1h-4zM402 333h8v1h-8zM510 333h11v1h-11zM300 334h4v1h-4zM394 334h8v1h-8zM521 334h4v1h-4zM304 335h4v1h-4zM324 335h31v1h-31zM386 335h8v1h-8zM525 335h4v1h-4zM308 336h4v1h-4zM317 336h7v1h-7zM355 336h31v1h-31zM529 336h4v1h-4zM312 337h5v1h-5zM533 337h4v1h-4zM618 337h10v1h-10zM537 338h4v1h-4zM610 338h8v1h-8zM628 338h12v1h-12zM541 339h4v1h-4zM601 339h9v1h-9zM640 339h11v1h-11zM545 340h4v1h-4zM593 340h8v1h-8zM651 340h12v1h-12zM718 340h51v1h-51zM549 341h4v1h-4zM585 341h8v1h-8zM663 341h55v1h-55zM769 341h1v1h-1zM553 342h4v1h-4zM576 342h9v1h-9zM770 342h1v1h-1zM557 343h4v1h-4zM568 343h8v1h-8zM770 343h1v1h-1zM561 344h7v1h-7zM771 344h1v1h-1z"/>
<path class="m" fill="#00ff00" d="M89 315h5v1h-5zM90 314h3v3h-3zM91 313h1v5h-1zM170 316h5v1h-5zM171 315h3v3h-3zM172 314h1v5h-1zM207 326h5v1h-5zM208 325h3v3h-3zM209 324h1v5h-1zM276 328h5v1h-5zM277 327h3v3h-3zM278 326h1v5h-1zM311 337h5v1h-5zM312 336h3v3h-3zM313 335h1v5h-1zM325 335h5v1h-5zM326 334h3v3h-3zM327 333h1v5h-1zM380 336h5v1h-5zM381 335h3v3h-3zM382 334h1v5h-1zM420 331h5v1h-5zM421 330h3v3h-3zM422 329h1v5h-1zM452 329h5v1h-5zM453 328h3v3h-3zM454 327h1v5h-1zM516 333h5v1h-5zM517 332h3v3h-3zM518 331h1v5h-1zM561 344h5v1h-5zM562 343h3v3h-3zM563 342h1v5h-1zM620 337h5v1h-5zM621 336h3v3h-3zM622 335h1v5h-1zM666 341h5v1h-5zM667 340h3v3h-3zM668 339h1v5h-1zM766 340h5v1h-5zM767 339h3v3h-3zM768 338h1v5h-1zM770 345h5v1h-5zM771 344h3v3h-3zM772 343h1v5h-1zM770 347h5v1h-5zM771 346h3v3h-3zM772 345h1v5h-1z"/>
<path class="m" fill="#00ff00" d="M644 430h1v3h-1zM92 418h7v1h-7zM87 419h5v1h-5zM99 419h10v1h-10zM82 420h5v1h-5zM109 420h10v1h-10zM119 421h11v1h-11zM166 421h25v1h-25zM130 422h10v1h-10zM152 422h14v1h-14zM191 422h9v1h-9zM140 423h12v1h-12zM200 423h9v1h-9zM209 424h9v1h-9zM222 424h13v1h-13zM218 425h5v1h-5zM235 425h25v1h-25zM260 426h26v1h-26zM422 426h75v1h-75zM286 427h25v1h-25zM356 427h66v1h-66zM497 427h84v1h-84zM311 428h45v1h-45zM581 428h44v1h-44zM625 429h6v1h-6zM631 430h5v1h-5zM645 430h5v1h-5zM636 431h6v1h-6zM650 431h11v1h-11zM642 432h2v1h-2zM661 432h6v1h-6zM666 433h1v1h-1z"/>
<path class="m" fill="#00ff00" d="M80 420h5v1h-5zM81 419h3v3h-3zM82 418h1v5h-1zM89 419h5v1h-5zM90 418h3v3h-3zM91 417h1v5h-1zM91 418h5v1h-5zM92 417h3v3h-3zM93 416h1v5h-1zM143 423h5v1h-5zM144 422h3v3h-3zM145 421h1v5h-1zM171 421h5v1h-5zM172 420h3v3h-3zM173 419h1v5h-1zM184 421h5v1h-5zM185 420h3v3h-3zM186 419h1v5h-1zM220 425h5v1h-5zM221 424h3v3h-3zM222 423h1v5h-1zM220 424h5v1h-5zM221 423h3v3h-3zM222 422h1v5h-1zM321 428h5v1h-5zM322 427h3v3h-3zM323 426h1v5h-1zM453 426h5v1h-5zM454 425h3v3h-3zM455 424h1v5h-1zM620 428h5v1h-5zM621 427h3v3h-3zM622 426h1v5h-1zM642 432h5v1h-5zM643 431h3v3h-3zM644 430h1v5h-1zM642 430h5v1h-5zM643 429h3v3h-3zM644 428h1v5h-1zM664 432h5v1h-5zM665 431h3v3h-3zM666 430h1v5h-1zM664 433h5v1h-5zM665 432h3v3h-3zM666 431h1v5h-1z"/>
<path class="m" fill="#000000" d="M622 142h1v4h-1zM644 153h1v4h-1zM325 134h1v3h-1zM50 64h1v1h-1zM51 65h1v1h-1zM52 66h2v1h-2zM54 67h1v1h-1zM55 68h1v1h-1zM56 69h2v1h-2zM58 70h1v1h-1zM59 71h1v1h-1zM60 72h2v1h-2zM62 73h1v1h-1zM63 74h1v1h-1zM64 75h2v1h-2zM66 76h1v1h-1zM67 77h1v1h-1zM68 78h2v1h-2zM70 79h1v1h-1zM71 80h1v1h-1zM72 81h2v1h-2zM74 82h1v1h-1zM75 83h1v1h-1zM76 84h2v1h-2zM78 85h1v1h-1zM79 86h1v1h-1zM80 87h2v1h-2zM109 87h3v1h-3zM82 88h1v1h-1zM107 88h2v1h-2zM112 88h3v1h-3zM83 89h1v1h-1zM105 89h2v1h-2zM115 89h3v1h-3zM84 90h2v1h-2zM102 90h3v1h-3zM118 90h4v1h-4zM86 91h1v1h-1zM100 91h2v1h-2zM122 91h3v1h-3zM87 92h1v1h-1zM97 92h3v1h-3zM125 92h3v1h-3zM88 93h2v1h-2zM95 93h2v1h-2zM128 93h3v1h-3zM90 94h1v1h-1zM93 94h2v1h-2zM131 94h3v1h-3zM173 94h1v1h-1zM91 95h2v1h-2zM134 95h4v1h-4zM171 95h2v1h-2zM174 95h2v1h-2zM138 96h3v1h-3zM169 96h2v1h-2zM176 96h1v1h-1zM141 97h3v1h-3zM167 97h2v1h-2zM177 97h2v1h-2zM144 98h2v1h-2zM165 98h2v1h-2zM179 98h1v1h-1zM146 99h2v1h-2zM163 99h2v1h-2zM180 99h1v1h-1zM148 100h1v1h-1zM161 100h2v1h-2zM181 100h2v1h-2zM149 101h2v1h-2zM159 101h2v1h-2zM183 101h1v1h-1zM151 102h1v1h-1zM157 102h2v1h-2zM184 102h2v1h-2zM152 103h2v1h-2zM155 103h2v1h-2zM186 103h1v1h-1zM154 104h1v1h-1zM187 104h1v1h-1zM188 105h1v1h-1zM189 106h2v1h-2zM191 107h1v1h-1zM192 108h1v1h-1zM193 109h1v1h-1zM194 110h1v1h-1zM195 111h1v1h-1zM196 112h1v1h-1zM197 113h2v1h-2zM199 114h1v1h-1zM200 115h1v1h-1zM201 116h1v1h-1zM202 117h1v1h-1zM203 118h1v1h-1zM204 119h1v1h-1zM205 120h2v1h-2zM263 120h11v1h-11zM207 121h1v1h-1zM241 121h22v1h-22zM274 121h2v1h-2zM208 122h1v1h-1zM220 122h21v1h-21zM276 122h2v1h-2zM209 123h11v1h-11zM278 123h2v1h-2zM280 124h2v1h-2zM282 125h2v1h-2zM284 126h2v1h-2zM286 127h2v1h-2zM288 128h2v1h-2zM290 129h2v1h-2zM292 130h2v1h-2zM323 130h1v1h-1zM294 131h2v1h-2zM322 131h2v1h-2zM296 132h2v1h-2zM321 132h1v1h-1zM324 132h1v1h-1zM298 133h2v1h-2zM320 133h1v1h-1zM324 133h1v1h-1zM300 134h2v1h-2zM319 134h1v1h-1zM302 135h2v1h-2zM318 135h1v1h-1zM304 136h2v1h-2zM317 136h1v1h-1zM306 137h2v1h-2zM316 137h1v1h-1zM326 137h1v1h-1zM308 138h2v1h-2zM315 138h1v1h-1zM326 138h1v1h-1zM382 138h5v1h-5zM310 139h2v1h-2zM314 139h1v1h-1zM327 139h1v1h-1zM355 139h28v1h-28zM387 139h9v1h-9zM312 140h2v1h-2zM327 140h28v1h-28zM396 140h9v1h-9zM405 141h9v1h-9zM667 141h1v1h-1zM414 142h9v1h-9zM665 142h2v1h-2zM423 143h9v1h-9zM623 143h2v1h-2zM663 143h2v1h-2zM432 144h9v1h-9zM625 144h1v1h-1zM661 144h2v1h-2zM441 145h15v1h-15zM615 145h7v1h-7zM626 145h2v1h-2zM659 145h2v1h-2zM456 146h22v1h-22zM600 146h15v1h-15zM628 146h2v1h-2zM657 146h2v1h-2zM478 147h21v1h-21zM586 147h14v1h-14zM630 147h1v1h-1zM655 147h2v1h-2zM499 148h22v1h-22zM571 148h15v1h-15zM631 148h2v1h-2zM653 148h2v1h-2zM521 149h50v1h-50zM633 149h1v1h-1zM651 149h2v1h-2zM634 150h2v1h-2zM649 150h2v1h-2zM636 151h1v1h-1zM647 151h2v1h-2zM637 152h2v1h-2zM645 152h2v1h-2zM639 153h2v1h-2zM641 154h1v1h-1zM642 155h2v1h-2z"/>
<path class="m" fill="#000000" d="M48 64h5v1h-5zM49 63h3v3h-3zM50 62h1v5h-1zM89 95h5v1h-5zM90 94h3v3h-3zM91 93h1v5h-1zM108 87h5v1h-5zM109 86h3v3h-3zM110 85h1v5h-1zM143 98h5v1h-5zM144 97h3v3h-3zM145 96h1v5h-1zM152 104h5v1h-5zM153 103h3v3h-3zM154 102h1v5h-1zM171 94h5v1h-5zM172 93h3v3h-3zM173 92h1v5h-1zM184 103h5v1h-5zM185 102h3v3h-3zM186 101h1v5h-1zM207 123h5v1h-5zM208 122h3v3h-3zM209 121h1v5h-1zM271 120h5v1h-5zM272 119h3v3h-3zM273 118h1v5h-1zM311 140h5v1h-5zM312 139h3v3h-3zM313 138h1v5h-1zM321 130h5v1h-5zM322 129h3v3h-3zM323 128h1v5h-1zM325 140h5v1h-5zM326 139h3v3h-3zM327 138h1v5h-1zM380 139h5v1h-5zM381 138h3v3h-3zM382 137h1v5h-1zM380 138h5v1h-5zM381 137h3v3h-3zM382 136h1v5h-1zM443 145h5v1h-5zM444 144h3v3h-3zM445 143h1v5h-1zM529 149h5v1h-5zM530 148h3v3h-3zM531 147h1v5h-1zM561 149h5v1h-5zM562 148h3v3h-3zM563 147h1v5h-1zM620 145h5v1h-5zM621 144h3v3h-3zM622 143h1v5h-1zM620 142h5v1h-5zM621 141h3v3h-3zM622 140h1v5h-1zM642 156h5v1h-5zM643 155h3v3h-3zM644 154h1v5h-1zM642 153h5v1h-5zM643 152h3v3h-3zM644 151h1v5h-1zM665 141h5v1h-5zM666 140h3v3h-3zM667 139h1v5h-1z"/>
<path class="m" fill="#000000" d="M772 344h1v3h-1zM532 336h15v1h-15zM547 337h30v1h-30zM577 338h30v1h-30zM607 339h30v1h-30zM637 340h30v1h-30zM667 341h30v1h-30zM697 342h30v1h-30zM727 343h30v1h-30zM757 344h15v1h-15z"/>
<path class="m" fill="#000000" d="M530 336h5v1h-5zM531 335h3v3h-3zM532 334h1v5h-1zM770 344h5v1h-5zM771 343h3v3h-3zM772 342h1v5h-1zM770 346h5v1h-5zM771 345h3v3h-3zM772 344h1v5h-1z"/>
</svg>
</body></html>
